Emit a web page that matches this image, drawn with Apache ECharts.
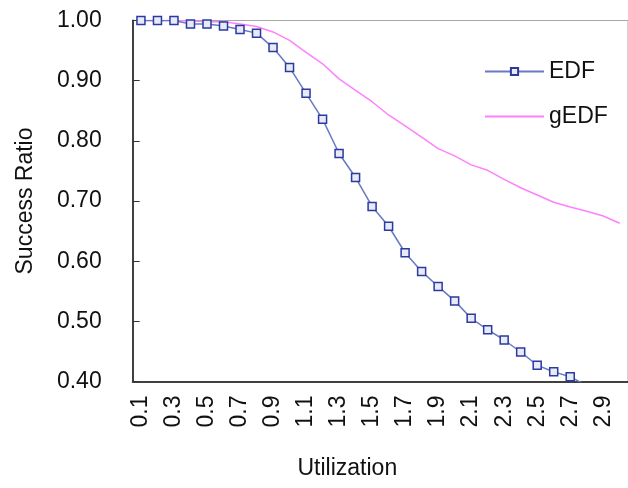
<!DOCTYPE html>
<html>
<head>
<meta charset="utf-8">
<script src="https://cdn.jsdelivr.net/npm/echarts@6/dist/echarts.min.js"></script>
<style>
html,body{margin:0;padding:0;background:#fff;}
#chart{width:628px;height:488px;}
</style>
</head>
<body>
<div id="chart"></div>
<script>
const categories = ['0.1','0.2','0.3','0.4','0.5','0.6','0.7','0.8','0.9','1.0',
  '1.1','1.2','1.3','1.4','1.5','1.6','1.7','1.8','1.9','2.0',
  '2.1','2.2','2.3','2.4','2.5','2.6','2.7','2.8','2.9','3.0'];
const edf = [1.000,1.000,1.000,0.994,0.994,0.991,0.985,0.979,0.955,0.922,
  0.879,0.836,0.779,0.739,0.691,0.658,0.614,0.583,0.558,0.534,
  0.505,0.486,0.469,0.449,0.427,0.416,0.408,0.393,null,null];
const gedf = [1.000,1.000,1.000,0.999,0.998,0.998,0.994,0.990,0.981,0.967,
  0.947,0.928,0.903,0.884,0.865,0.843,0.825,0.806,0.787,0.775,
  0.760,0.751,0.736,0.722,0.710,0.698,0.690,0.683,0.675,0.663];
const yTicks = {min: 0.4, max: 1.0, step: 0.1};

const font = 'Liberation Sans, Arial, sans-serif';
const fs = 23;
const chart = echarts.init(document.getElementById('chart'), null, {renderer: 'canvas'});
chart.setOption({
  animation: false,
  backgroundColor: '#fff',
  grid: {left: 132.7, right: -9, top: 20.5, bottom: 106.5, show: true, borderColor: '#a6a6a6', borderWidth: 1},
  legend: {
    orient: 'vertical', left: 479, top: 55, itemWidth: 59, itemHeight: 9, itemGap: 22,
    textStyle: {fontFamily: font, fontSize: fs, color: '#111'},
    data: ['EDF', {name: 'gEDF', itemStyle: {opacity: 0}}]
  },
  xAxis: {
    type: 'category', data: categories, boundaryGap: true,
    name: 'Utilization', nameLocation: 'middle', nameGap: 76,
    nameTextStyle: {fontFamily: font, fontSize: fs, color: '#111', padding: [0, 66, 0, 0]},
    axisLine: {lineStyle: {color: '#404040', width: 2}},
    axisTick: {inside: true, length: 7, interval: 0, lineStyle: {color: '#333', width: 1}},
    axisLabel: {interval: 1, rotate: 90, margin: 14, fontFamily: font, fontSize: fs, color: '#111'},
    splitLine: {show: false}
  },
  yAxis: {
    type: 'value', min: yTicks.min, max: yTicks.max, interval: yTicks.step,
    name: 'Success Ratio', nameLocation: 'middle', nameGap: 96, nameRotate: 90,
    nameTextStyle: {fontFamily: font, fontSize: fs, color: '#111'},
    axisLine: {show: true, lineStyle: {color: '#404040', width: 2}},
    axisTick: {show: true, inside: true, length: 7, lineStyle: {color: '#333', width: 1}},
    axisLabel: {margin: 31, fontFamily: font, fontSize: fs, color: '#111',
      formatter: v => v.toFixed(2)},
    splitLine: {show: false}
  },
  series: [
    {
      name: 'EDF', type: 'line', data: edf, clip: true,
      symbol: 'rect', symbolSize: 8, showSymbol: true,
      lineStyle: {color: '#6878c4', width: 1.5},
      itemStyle: {color: '#e8ebf7', borderColor: '#2a3a9e', borderWidth: 1.5},
      z: 3
    },
    {
      name: 'gEDF', type: 'line', data: gedf, clip: true,
      symbol: 'none', showSymbol: false,
      lineStyle: {color: '#ff80ff', width: 1.5},
      itemStyle: {color: '#ff80ff'},
      z: 2
    }
  ]
});
</script>
</body>
</html>
